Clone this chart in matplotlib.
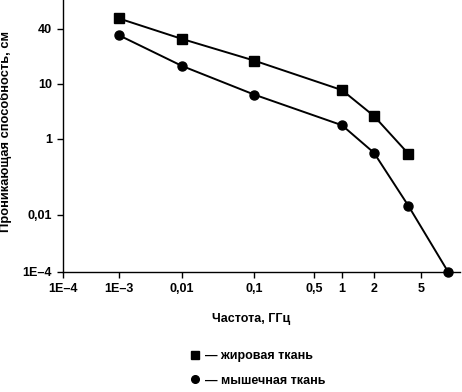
import numpy as np
import matplotlib
matplotlib.use('Agg')
import matplotlib.pyplot as plt
from matplotlib.lines import Line2D

# Frequency, GHz / penetration depth, cm
freq_fat = [0.001, 0.01, 0.1, 1, 2, 3.9]
depth_fat = [52, 31, 18, 7.7, 2.6, 0.41]
freq_muscle = [0.001, 0.01, 0.1, 1, 2, 3.9, 8.5]
depth_muscle = [34, 15.7, 6.4, 1.77, 0.43, 0.0176, 1e-4]

xticks = [1e-4, 1e-3, 0.01, 0.1, 0.5, 1, 2, 5]
xticklabels = ['1E\u20134', '1E\u20133', '0,01', '0,1', '0,5', '1', '2', '5']
yticks = [1e-4, 0.01, 1, 10, 40]
yticklabels = ['1E\u20134', '0,01', '1', '10', '40']

# the original axes are not evenly spaced per decade: piecewise log mapping
x_logs = [-6, -4, -3, -2, -1, np.log10(0.5), 0, np.log10(2), np.log10(5), 2]
x_pos = [-49, 63, 119, 182, 254, 314, 342, 374, 421, 574.5]
y_logs = [-6, -4, -2, 0, 1, np.log10(40), 3]
y_pos = [-57, 0, 57, 133, 188, 243, 370]

def make_scale(logs, pos):
    def fwd(v):
        v = np.clip(np.asarray(v, dtype=float), 1e-12, None)
        return np.interp(np.log10(v), logs, pos)
    def inv(p):
        return 10 ** np.interp(np.asarray(p, dtype=float), pos, logs)
    return fwd, inv

plt.rcParams['font.family'] = ['Liberation Sans', 'DejaVu Sans']
plt.rcParams['font.size'] = 9
plt.rcParams['font.weight'] = 'bold'

fig = plt.figure(figsize=(4.62, 3.92), dpi=100)
ax = fig.add_axes([63 / 462, 120 / 392, 397 / 462, 272 / 392])
ax.set_xscale('function', functions=make_scale(x_logs, x_pos))
ax.set_yscale('function', functions=make_scale(y_logs, y_pos))

ax.plot(freq_fat, depth_fat, color='black', linewidth=1.4, marker='s',
        markersize=7, clip_on=False)
ax.plot(freq_muscle, depth_muscle, color='black', linewidth=1.4, marker='o',
        markersize=6.5, clip_on=False)

ax.set_xlim(1e-4, 10.7)
ax.set_ylim(1e-4, 83)
ax.set_xticks(xticks)
ax.set_xticklabels(xticklabels)
ax.set_yticks(yticks)
ax.set_yticklabels(yticklabels)
ax.minorticks_off()
ax.tick_params(direction='out', length=4, width=1, pad=4, labelsize=9)
ax.spines['top'].set_visible(False)
ax.spines['right'].set_visible(False)
for side in ['left', 'bottom']:
    ax.spines[side].set_linewidth(1.0)

ax.set_xlabel('Частота, ГГц', fontsize=9, fontweight='bold')
ax.xaxis.set_label_coords(0.474, -0.15)
ax.set_ylabel('Проникающая способность, см', fontsize=9.3, fontweight='bold')
ax.yaxis.set_label_coords(-0.128, 0.518)

handles = [Line2D([], [], color='black', marker='s', linestyle='none', markersize=6),
           Line2D([], [], color='black', marker='o', linestyle='none', markersize=5.5)]
fig.legend(handles, ['\u2014 жировая ткань', '\u2014 мышечная ткань'],
           loc='upper left', bbox_to_anchor=(190 / 462, 1 - 350 / 392),
           frameon=False, handlelength=0.8, handletextpad=0.4,
           labelspacing=1.0, borderpad=0, borderaxespad=0,
           prop={'size': 9, 'weight': 'bold'})

fig.savefig('out.png', dpi=100)
